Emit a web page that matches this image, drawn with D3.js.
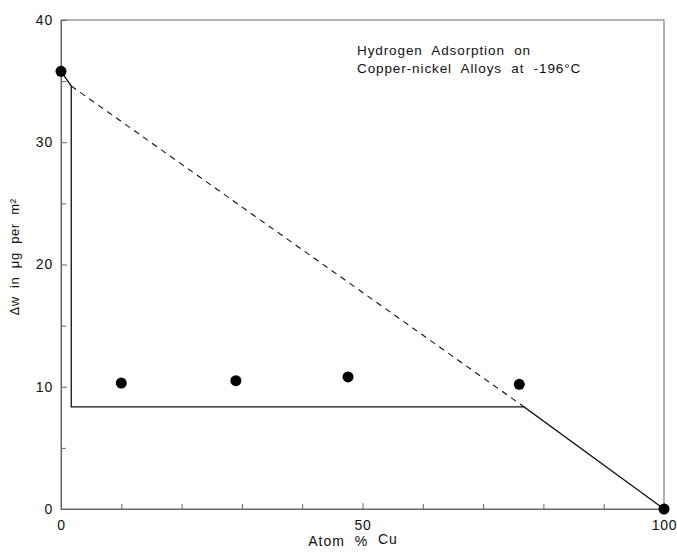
<!DOCTYPE html>
<html>
<head>
<meta charset="utf-8">
<script src="https://cdn.jsdelivr.net/npm/d3@7"></script>
<style>
  body { margin: 0; background: #fff; }
  text { font-family: "Liberation Sans", Arial, sans-serif; fill: #111; }
</style>
</head>
<body>
<svg id="chart" width="677" height="553"></svg>
<script>
// measured points (atom % Cu, delta w in ug per m2)
const pointCu = [0, 10, 29, 47.6, 76, 100];
const pointDw = [35.8, 10.3, 10.5, 10.8, 10.2, 0];

// solid curve through the data
const solidCu = [0, 1.7, 1.7, 76.8, 100];
const solidDw = [35.8, 34.6, 8.35, 8.35, 0];

// dashed straight line, ideal mixture
const dashCu = [1.7, 76.8];
const dashDw = [34.6, 8.35];

const xMajor = [0, 50, 100];
const xMinor = [10, 20, 30, 40, 60, 70, 80, 90];
const yMajor = [0, 10, 20, 30, 40];
const yMinor = [5, 15, 25, 35];

const titleLines = ["Hydrogen  Adsorption  on", "Copper-nickel  Alloys  at  -196°C"];

const svg = d3.select("#chart");
const plotLeft = 61, plotRight = 664, plotTop = 20, plotBottom = 509;

const x = d3.scaleLinear().domain([0, 100]).range([plotLeft, plotRight]);
const y = d3.scaleLinear().domain([0, 40]).range([plotBottom, plotTop]);

// frame
svg.append("rect")
    .attr("x", plotLeft).attr("y", plotTop)
    .attr("width", plotRight - plotLeft).attr("height", plotBottom - plotTop)
    .attr("fill", "none").attr("stroke", "#666").attr("stroke-width", 1);

// axes, ticks point inward
svg.append("g").attr("transform", `translate(${plotLeft},0)`)
    .call(d3.axisLeft(y).tickValues(yMajor).tickSizeInner(-6).tickSizeOuter(0).tickPadding(8));
svg.append("g").attr("transform", `translate(${plotLeft},0)`)
    .call(d3.axisLeft(y).tickValues(yMinor).tickSizeInner(-5).tickSizeOuter(0).tickFormat(""));
svg.append("g").attr("transform", `translate(0,${plotBottom})`)
    .call(d3.axisBottom(x).tickValues(xMajor).tickSizeInner(-6).tickSizeOuter(0).tickPadding(11));
svg.append("g").attr("transform", `translate(0,${plotBottom})`)
    .call(d3.axisBottom(x).tickValues(xMinor).tickSizeInner(-5).tickSizeOuter(0).tickFormat(""));

svg.selectAll(".domain").attr("stroke", "#666");
svg.selectAll(".tick line").attr("stroke", "#666");
svg.selectAll(".tick text").attr("font-size", 14).attr("fill", "#111")
    .attr("letter-spacing", 0.8)
    .attr("font-family", "Liberation Sans, Arial, sans-serif");

// lines
const line = d3.line().x(d => x(d[0])).y(d => y(d[1]));

svg.append("path")
    .datum(solidCu.map((c, i) => [c, solidDw[i]]))
    .attr("d", line)
    .attr("fill", "none").attr("stroke", "#111").attr("stroke-width", 1.3);

svg.append("path")
    .datum(dashCu.map((c, i) => [c, dashDw[i]]))
    .attr("d", line)
    .attr("fill", "none").attr("stroke", "#111").attr("stroke-width", 1.1)
    .attr("stroke-dasharray", "6,5");

// points
svg.append("g").selectAll("circle")
    .data(pointCu.map((c, i) => [c, pointDw[i]]))
    .join("circle")
    .attr("cx", d => x(d[0]))
    .attr("cy", d => y(d[1]))
    .attr("r", 5.5)
    .attr("fill", "#000");

// title
svg.append("text")
    .attr("x", 357).attr("y", 55)
    .attr("font-size", 13.5)
    .attr("letter-spacing", 0.9)
    .style("white-space", "pre")
    .selectAll("tspan")
    .data(titleLines)
    .join("tspan")
    .attr("x", 357)
    .attr("dy", (d, i) => i === 0 ? 0 : 18)
    .text(d => d);

// axis labels
const xLabel = svg.append("text")
    .attr("x", 353).attr("y", 546)
    .attr("text-anchor", "middle")
    .attr("font-size", 14)
    .attr("letter-spacing", 1)
    .style("white-space", "pre");
xLabel.append("tspan").text("Atom  %  ");
xLabel.append("tspan").attr("dy", -2).text("Cu");

svg.append("text")
    .attr("transform", "translate(19,257) rotate(-90)")
    .attr("text-anchor", "middle")
    .attr("font-size", 13)
    .attr("letter-spacing", 0.6)
    .style("white-space", "pre")
    .text("Δw  in  μg  per  m²");
</script>
</body>
</html>
